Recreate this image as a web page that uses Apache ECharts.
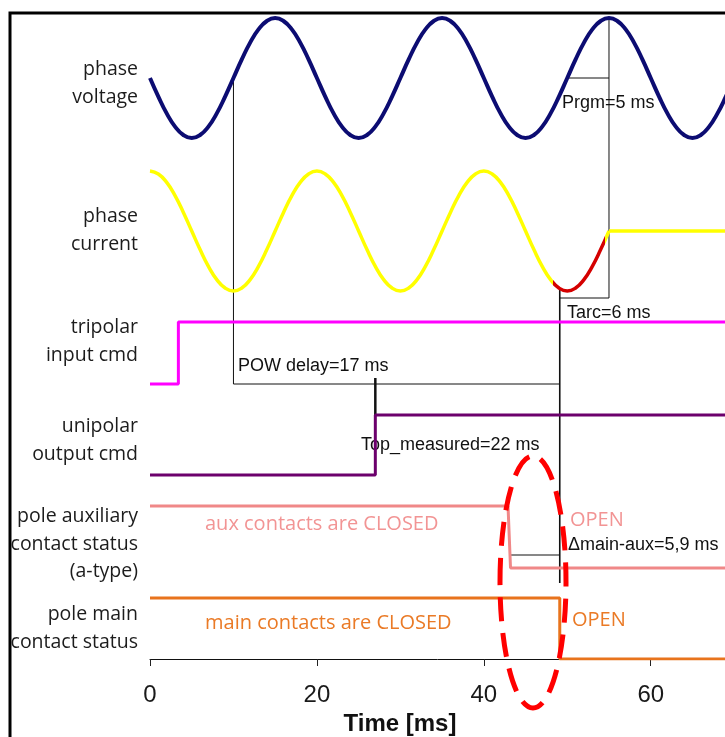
<!DOCTYPE html>
<html><head><meta charset="utf-8">
<script src="https://cdn.jsdelivr.net/npm/echarts@6/dist/echarts.min.js"></script>
<style>html,body{margin:0;padding:0;background:#fff}#c{width:725px;height:737px}</style>
</head><body><div id="c"></div>
<script>
// ---------------- DATA ----------------
const xTickLabels = [0, 20, 40, 60];           // ms
// sample times: 1 ms steps
const sampleTimes = [0,1,2,3,4,5,6,7,8,9,10,11,12,13,14,15,16,17,18,19,20,21,22,23,24,25,26,27,28,29,30,31,32,33,34,35,36,37,38,39,40,41,42,43,44,45,46,47,48,49,50,51,52,53,54,55,56,57,58,59,60,61,62,63,64,65,66,67,68,69,70];
// normalised phase voltage (peak = 1)
const phaseVoltage = [
  0,-0.31,-0.59,-0.81,-0.95,-1,-0.95,-0.81,-0.59,-0.31, 0,0.31,0.59,0.81,0.95,1,0.95,0.81,0.59,0.31,
  0,-0.31,-0.59,-0.81,-0.95,-1,-0.95,-0.81,-0.59,-0.31, 0,0.31,0.59,0.81,0.95,1,0.95,0.81,0.59,0.31,
  0,-0.31,-0.59,-0.81,-0.95,-1,-0.95,-0.81,-0.59,-0.31, 0,0.31,0.59,0.81,0.95,1,0.95,0.81,0.59,0.31,
  0,-0.31,-0.59,-0.81,-0.95,-1,-0.95,-0.81,-0.59,-0.31, 0];
// normalised phase current until interruption (t = 0..55 ms)
const phaseCurrent = [
  1,0.95,0.81,0.59,0.31,0,-0.31,-0.59,-0.81,-0.95,-1,-0.95,-0.81,-0.59,-0.31,0,0.31,0.59,0.81,0.95,
  1,0.95,0.81,0.59,0.31,0,-0.31,-0.59,-0.81,-0.95,-1,-0.95,-0.81,-0.59,-0.31,0,0.31,0.59,0.81,0.95,
  1,0.95,0.81,0.59,0.31,0,-0.31,-0.59,-0.81,-0.95,-1,-0.95,-0.81,-0.59,-0.31,0];
// current after interruption: [t, value]
const currentAfter = [[55, 0], [70, 0]];
const arcWindow = [48.3, 54.5];                 // red arcing part of the current (ms)
// step signals: [t ms, state 0/1]
const tripolarInput = [[0,0],[3.4,0],[3.4,1],[70,1]];
const unipolarOutput = [[0,0],[27,0],[27,1],[70,1]];
const auxContact = [[0,1],[42.9,1],[43.2,0],[70,0]];
const mainContact = [[0,1],[49.1,1],[49.1,0],[70,0]];
// event times (ms)
const tPowRef = 10, tUnipolar = 27, tAux = 43.2, tMain = 49.1, tPrgmStart = 50, tZero = 55;
const xMaxVisible = 68.9;

// ---------------- LAYOUT ----------------
const lanes = {
  voltage: {mid: 78, amp: 60},
  current: {mid: 231, amp: 60},
  tripolar: {lo: 384, hi: 322},
  unipolar: {lo: 475, hi: 415},
  aux: {lo: 568, hi: 506},
  main: {lo: 659, hi: 598}
};
const wave = (vals, lane) => vals.map((v, i) => [sampleTimes[i], lane.mid - lane.amp * v]);
const step = (pts, lane) => pts.map(p => [p[0], p[1] ? lane.hi : lane.lo]);

const chart = echarts.init(document.getElementById('c'), null, {renderer: 'canvas'});
const blackLine = (data, w) => ({
  type: 'line', data, symbol: 'none', silent: true, z: 1, animation: false,
  lineStyle: {color: '#111', width: w || 1}
});
const sig = (data, color, w, smooth) => ({
  type: 'line', data, symbol: 'none', silent: true, z: 3, animation: false, smooth: !!smooth,
  lineStyle: {color, width: w}
});

const labelFont = '"Open Sans", "Noto Sans", sans-serif';
const annoFont = '"Liberation Sans", Arial, sans-serif';
const leftLabel = (text, y) => ({type: 'text', right: 725 - 138, top: y, style: {text, font: '19.5px ' + labelFont, fill: '#1c1c1c', textAlign: 'right', lineHeight: 27.5}});
const anno = (text, x, y) => ({type: 'text', x, y, style: {text, font: '18px ' + annoFont, fill: '#111', textVerticalAlign: 'middle'}});
const colored = (text, x, y, color) => ({type: 'text', x, y, style: {text, font: '20px ' + labelFont, fill: color, textVerticalAlign: 'middle'}});

const currentSeries = sig(wave(phaseCurrent, lanes.current), '#ffff00', 3.5, true);

const option = {
  animation: false,
  backgroundColor: '#fff',
  grid: {left: 150, top: 14, right: 0, height: 645, outerBoundsMode: 'none', containLabel: false},
  xAxis: {
    type: 'value', min: 0, max: xMaxVisible, interval: 20,
    axisLine: {show: true, lineStyle: {color: '#111', width: 1}},
    axisTick: {show: true, inside: false, length: 7, lineStyle: {color: '#222'}},
    axisLabel: {margin: 24, color: '#1a1a1a', fontSize: 24, fontFamily: annoFont, showMaxLabel: false,
      formatter: v => xTickLabels.includes(v) ? String(v) : ''},
    splitLine: {show: false},
    name: 'Time [ms]', nameLocation: 'middle', nameGap: 52,
    nameTextStyle: {fontSize: 24, fontWeight: 'bold', fontFamily: annoFont, color: '#111', padding: [0, 75, 0, 0]}
  },
  yAxis: {type: 'value', inverse: true, min: 14, max: 659, show: false},
  series: [
    // annotation lines
    blackLine([[tPowRef, lanes.voltage.mid], [tPowRef, lanes.tripolar.lo]]),
    blackLine([[tPowRef, lanes.tripolar.lo], [tMain, lanes.tripolar.lo]]),
    blackLine([[tUnipolar, 378], [tUnipolar, lanes.unipolar.hi]], 2.5),
    blackLine([[tMain, 288], [tMain, 583]], 1.6),
    blackLine([[tZero, 18], [tZero, 298]]),
    blackLine([[tPrgmStart, lanes.voltage.mid], [tZero, lanes.voltage.mid]]),
    blackLine([[tMain, 298], [tZero, 298]]),
    blackLine([[tAux, 555], [tMain, 555]]),
    // signals
    sig(wave(phaseVoltage, lanes.voltage), '#0c0c72', 4, true),
    currentSeries,
    sig(currentAfter.map(p => [p[0], lanes.current.mid - lanes.current.amp * p[1]]), '#ffff00', 3.5),
    sig(step(tripolarInput, lanes.tripolar), '#ff00ff', 3),
    sig(step(unipolarOutput, lanes.unipolar), '#6c006c', 3),
    sig(step(auxContact, lanes.aux), '#f08888', 3),
    sig(step(mainContact, lanes.main), '#e8731c', 3)
  ],
  graphic: [
    {type: 'rect', shape: {x: 10, y: 13, width: 900, height: 900}, style: {fill: 'none', stroke: '#000', lineWidth: 3}, z: 10},
    leftLabel('phase\nvoltage', 56),
    leftLabel('phase\ncurrent', 203),
    leftLabel('tripolar\ninput cmd', 314),
    leftLabel('unipolar\noutput cmd', 413),
    leftLabel('pole auxiliary\ncontact status\n(a-type)', 503),
    leftLabel('pole main\ncontact status', 601),
    anno('Prgm=5 ms', 562, 103),
    anno('Tarc=6 ms', 567, 313),
    anno('POW delay=17 ms', 238, 366),
    anno('Top_measured=22 ms', 361, 445),
    anno('\u0394main-aux=5,9 ms', 568, 545),
    colored('aux contacts are CLOSED', 205, 524, '#f29494'),
    colored('main contacts are CLOSED', 205, 623, '#ea7a26'),
    colored('OPEN', 570, 520, '#f29494'),
    colored('OPEN', 572, 620, '#ea7a26'),
    {type: 'ellipse', shape: {cx: 533, cy: 582, rx: 33, ry: 126},
     style: {fill: 'none', stroke: '#ff0000', lineWidth: 5, lineDash: [24, 12]}, z: 20}
  ]
};
chart.setOption(option);

// colour the arcing part of the current red, using the axis scale for its position
const x0 = chart.convertToPixel({gridIndex: 0}, [arcWindow[0], 0])[0];
const x1 = chart.convertToPixel({gridIndex: 0}, [arcWindow[1], 0])[0];
const W = 725, o0 = x0 / W, o1 = x1 / W;
currentSeries.lineStyle.color = new echarts.graphic.LinearGradient(0, 0, W, 0, [
  {offset: 0, color: '#ffff00'}, {offset: o0, color: '#ffff00'},
  {offset: o0, color: '#d40000'}, {offset: o1, color: '#d40000'},
  {offset: o1, color: '#ffff00'}, {offset: 1, color: '#ffff00'}
], true);
chart.setOption({series: option.series});
</script></body></html>
